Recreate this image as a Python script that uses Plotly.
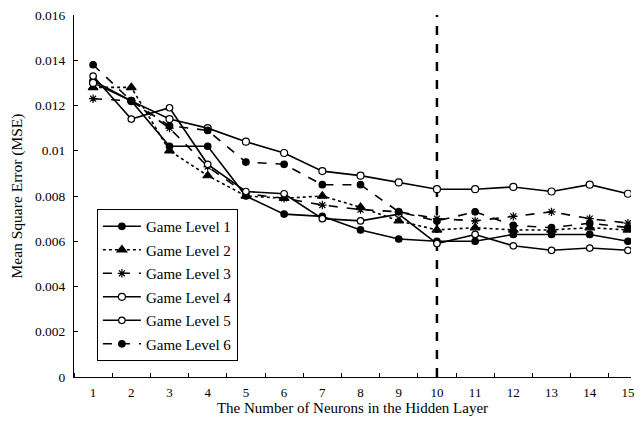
import plotly.graph_objects as go

neurons = list(range(1, 16))
level1 = [0.0131, 0.0122, 0.0102, 0.0102, 0.0080, 0.0072, 0.0071, 0.0065, 0.0061, 0.0060, 0.0060, 0.0063, 0.0063, 0.0063, 0.0060]
level2 = [0.0128, 0.0128, 0.0100, 0.0089, 0.0080, 0.0079, 0.0080, 0.0075, 0.0069, 0.0065, 0.0066, 0.0065, 0.0065, 0.0066, 0.0065]
level3 = [0.0123, 0.0122, 0.0110, 0.0093, 0.0081, 0.0079, 0.0076, 0.0074, 0.0073, 0.0070, 0.0069, 0.0071, 0.0073, 0.0070, 0.0068]
level4 = [0.0130, 0.0122, 0.0114, 0.0110, 0.0104, 0.0099, 0.0091, 0.0089, 0.0086, 0.0083, 0.0083, 0.0084, 0.0082, 0.0085, 0.0081]
level5 = [0.0133, 0.0114, 0.0119, 0.0094, 0.0082, 0.0081, 0.0070, 0.0069, 0.0072, 0.0059, 0.0063, 0.0058, 0.0056, 0.0057, 0.0056]
level6 = [0.0138, 0.0122, 0.0111, 0.0109, 0.0095, 0.0094, 0.0085, 0.0085, 0.0073, 0.0069, 0.0073, 0.0067, 0.0066, 0.0068, 0.0066]
names = ["Game Level 1", "Game Level 2", "Game Level 3", "Game Level 4", "Game Level 5", "Game Level 6"]
cutoff_neurons = 10
y_ticks = [0, 0.002, 0.004, 0.006, 0.008, 0.01, 0.012, 0.014, 0.016]
y_ticktext = ["0", "0.002", "0.004", "0.006", "0.008", "0.01", "0.012", "0.014", "0.016"]

series = [level1, level2, level3, level4, level5, level6]
styles = [
    dict(dash="solid", symbol="circle", size=6.5, fill="black", lw=1.6),
    dict(dash="dot", symbol="triangle-up", size=8.5, fill="black", lw=1.6),
    dict(dash="dash", symbol="asterisk-open", size=7, fill="black", lw=1.6),
    dict(dash="solid", symbol="circle", size=7, fill="white", lw=1.6),
    dict(dash="solid", symbol="circle", size=6.5, fill="white", lw=1.6),
    dict(dash="dash", symbol="circle", size=6.5, fill="black", lw=1.6),
]

fig = go.Figure()
fig.add_trace(go.Scatter(
    x=[cutoff_neurons, cutoff_neurons], y=[0, 0.016], mode="lines",
    line=dict(color="black", width=2.5, dash="dash"), showlegend=False, hoverinfo="skip"))

for name, vals, st in zip(names, series, styles):
    fig.add_trace(go.Scatter(
        x=neurons, y=vals, name=name, mode="lines+markers", legendgroup=name,
        line=dict(color="black", width=st["lw"], dash=st["dash"]),
        marker=dict(symbol=st["symbol"], size=st["size"], color=st["fill"],
                    line=dict(color="black", width=1.2)),
    ))

font_family = "Liberation Serif"
# page body has an 8px default margin on every side: figure sized to fit the window
fig.update_layout(
    width=626, height=408,
    margin=dict(l=66, r=0, t=7, b=39),
    paper_bgcolor="white", plot_bgcolor="white",
    font=dict(family=font_family, color="black", size=13.5),
    showlegend=True,
    legend=dict(
        x=0.0411, y=0.464, xanchor="left", yanchor="top",
        bgcolor="white", bordercolor="black", borderwidth=1,
        font=dict(family=font_family, size=15, color="black"),
        tracegroupgap=1, itemwidth=38,
    ),
    xaxis=dict(
        range=[0.5, 15.08], tickmode="array", tickvals=neurons,
        ticktext=[str(n) for n in neurons], ticks="", showgrid=False,
        showline=True, linecolor="black", linewidth=1, zeroline=False,
        tickfont=dict(size=13), ticklabelstandoff=3, ticklabeloverflow="allow",
        minor=dict(tick0=0.5, dtick=1, ticks="inside", ticklen=4, tickcolor="black", showgrid=False),
        title=dict(text="The Number of Neurons in the Hidden Layer", font=dict(size=15), standoff=4),
    ),
    yaxis=dict(
        range=[0, 0.016], tickmode="array", tickvals=y_ticks, ticktext=y_ticktext,
        ticks="inside", ticklen=4, tickcolor="black", showgrid=False,
        showline=True, linecolor="black", linewidth=1, zeroline=False,
        tickfont=dict(size=13.5), ticklabelstandoff=5, ticklabeloverflow="allow",
        title=dict(text="Mean Square Error (MSE)", font=dict(size=15.5), standoff=12),
    ),
)

fig.write_html("out.html")
